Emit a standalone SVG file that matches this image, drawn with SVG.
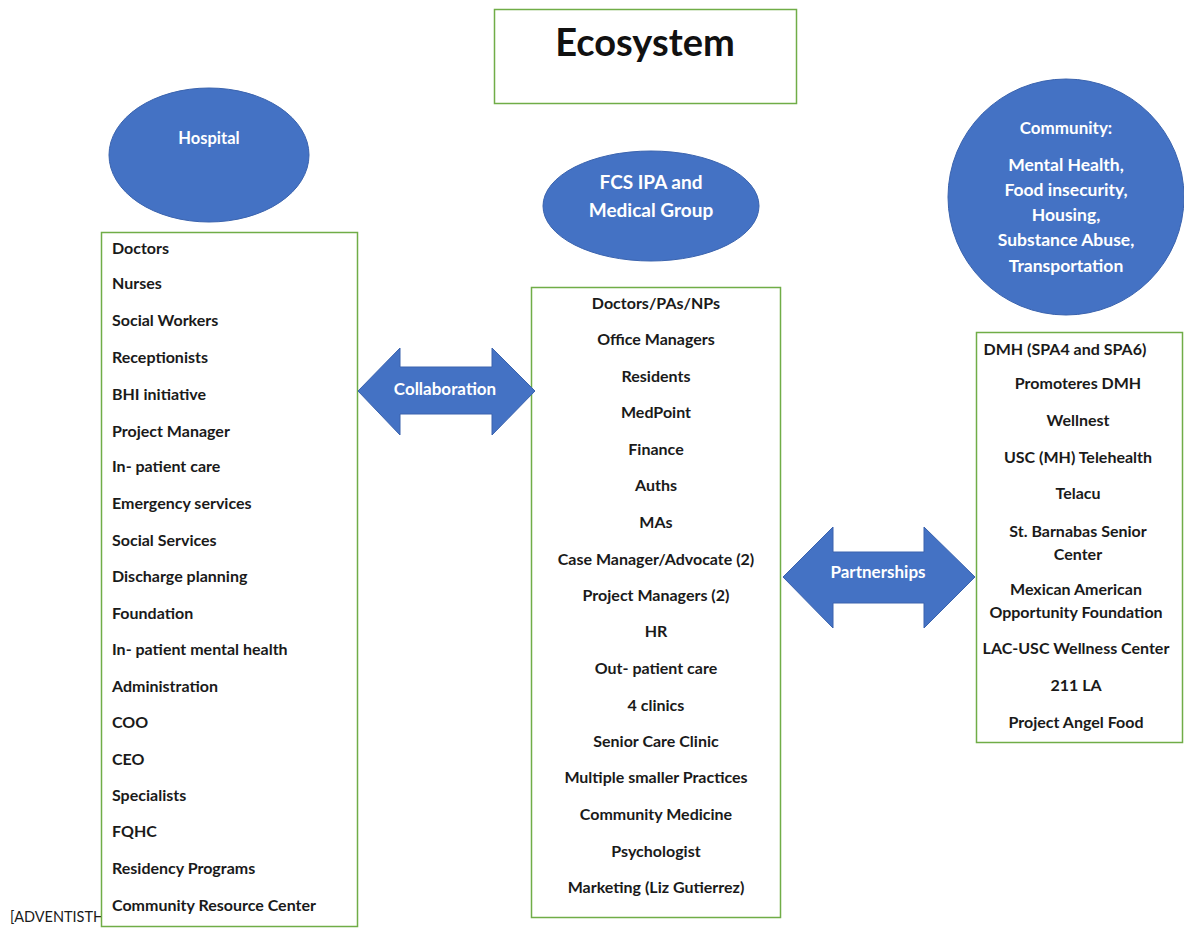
<svg xmlns="http://www.w3.org/2000/svg" width="1184" height="928" viewBox="0 0 1184 928">
<style>
.box{fill:#fff;stroke:#70AD47;stroke-width:1.5}
.ell{fill:#4472C4;stroke:#3A63AE;stroke-width:1}
.arr{fill:#4472C4;stroke:#3A63AE;stroke-width:1}
.t{font-family:Lato,"Liberation Sans",sans-serif;font-size:16px;fill:#1a1a1a;font-weight:bold}
.w{font-family:Lato,"Liberation Sans",sans-serif;font-weight:bold;fill:#fff;text-anchor:middle}
.c{text-anchor:middle}
</style>
<rect width="1184" height="928" fill="#fff"/>
<text x="10" y="922" style="font-family:Lato,'Liberation Sans',sans-serif;font-size:14.5px;fill:#1a1a1a">[ADVENTISTH</text>
<g id="title">
<rect class="box" x="494.5" y="9.5" width="302" height="94"/>
<text x="645" y="56" style="font-family:Lato,'Liberation Sans',sans-serif;font-weight:bold;font-size:38px;fill:#111" text-anchor="middle">Ecosystem</text>
</g>
<g id="hospital">
<ellipse class="ell" cx="209" cy="155" rx="100" ry="67"/>
<text x="209" y="144" class="w" font-size="16.5">Hospital</text>
</g>
<g id="hospital-list">
<rect class="box" x="101.5" y="232.5" width="256" height="694"/>
<g class="t">
<text x="112" y="254">Doctors</text>
<text x="112" y="289">Nurses</text>
<text x="112" y="326">Social Workers</text>
<text x="112" y="363">Receptionists</text>
<text x="112" y="400">BHI initiative</text>
<text x="112" y="437">Project Manager</text>
<text x="112" y="472">In- patient care</text>
<text x="112" y="509">Emergency services</text>
<text x="112" y="546">Social Services</text>
<text x="112" y="582">Discharge planning</text>
<text x="112" y="619">Foundation</text>
<text x="112" y="655">In- patient mental health</text>
<text x="112" y="692">Administration</text>
<text x="112" y="728">COO</text>
<text x="112" y="765">CEO</text>
<text x="112" y="801">Specialists</text>
<text x="112" y="837">FQHC</text>
<text x="112" y="874">Residency Programs</text>
<text x="112" y="911">Community Resource Center</text>
</g>
</g>
<g id="fcs">
<ellipse class="ell" cx="651" cy="206" rx="108" ry="55"/>
<text x="651" y="189" class="w" font-size="19">FCS IPA and</text>
<text x="651" y="217" class="w" font-size="19">Medical Group</text>
</g>
<g id="fcs-list">
<rect class="box" x="531.5" y="287.5" width="249" height="630"/>
<g class="t c">
<text x="656" y="309">Doctors/PAs/NPs</text>
<text x="656" y="345">Office Managers</text>
<text x="656" y="382">Residents</text>
<text x="656" y="418">MedPoint</text>
<text x="656" y="455">Finance</text>
<text x="656" y="491">Auths</text>
<text x="656" y="528">MAs</text>
<text x="656" y="565">Case Manager/Advocate (2)</text>
<text x="656" y="601">Project Managers (2)</text>
<text x="656" y="637">HR</text>
<text x="656" y="674">Out- patient care</text>
<text x="656" y="711">4 clinics</text>
<text x="656" y="747">Senior Care Clinic</text>
<text x="656" y="783">Multiple smaller Practices</text>
<text x="656" y="820">Community Medicine</text>
<text x="656" y="857">Psychologist</text>
<text x="656" y="893">Marketing (Liz Gutierrez)</text>
</g>
</g>
<g id="community">
<ellipse class="ell" cx="1066" cy="197" rx="118" ry="118"/>
<text x="1066" y="134" class="w" font-size="17">Community:</text>
<text x="1066" y="171" class="w" font-size="17.5">Mental Health,</text>
<text x="1066" y="196" class="w" font-size="17.5">Food insecurity,</text>
<text x="1066" y="221" class="w" font-size="17.5">Housing,</text>
<text x="1066" y="246" class="w" font-size="17.5">Substance Abuse,</text>
<text x="1066" y="272" class="w" font-size="17.5">Transportation</text>
</g>
<g id="community-list">
<rect class="box" x="976.5" y="332.5" width="206" height="410"/>
<g class="t c">
<text x="1065" y="355">DMH (SPA4 and SPA6)</text>
<text x="1078" y="389">Promoteres DMH</text>
<text x="1078" y="426">Wellnest</text>
<text x="1078" y="463">USC (MH) Telehealth</text>
<text x="1078" y="499">Telacu</text>
<text x="1078" y="537">St. Barnabas Senior</text>
<text x="1078" y="560">Center</text>
<text x="1076" y="595">Mexican American</text>
<text x="1076" y="618">Opportunity Foundation</text>
<text x="1076" y="654">LAC-USC Wellness Center</text>
<text x="1076" y="691">211 LA</text>
<text x="1076" y="728">Project Angel Food</text>
</g>
</g>
<g id="connectors">
<g id="collaboration">
<path class="arr" d="M358,391 L400,348 L400,367 L492,367 L492,348 L535,391 L492,435 L492,414 L400,414 L400,435 Z"/>
<text x="445" y="395" class="w" font-size="17">Collaboration</text>
</g>
<g id="partnerships">
<path class="arr" d="M783,577 L833,527 L833,552 L924,552 L924,527 L975,577 L924,628 L924,603 L833,603 L833,628 Z"/>
<text x="878" y="578" class="w" font-size="17">Partnerships</text>
</g>
</g>
</svg>
